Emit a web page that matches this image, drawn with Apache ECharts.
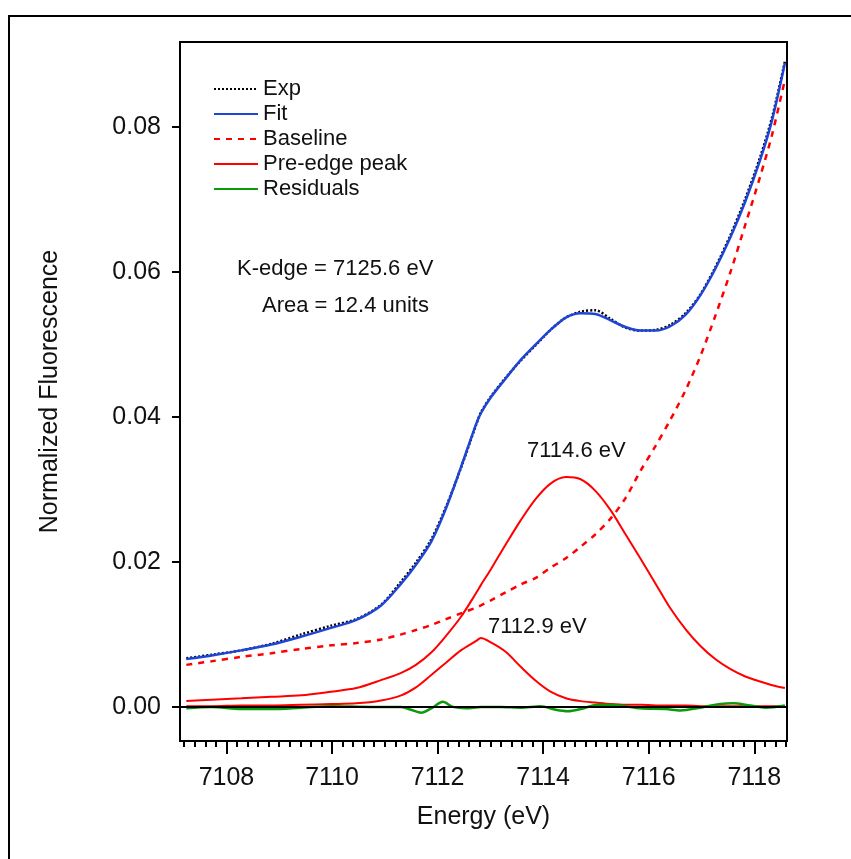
<!DOCTYPE html>
<html>
<head>
<meta charset="utf-8">
<script src="https://cdn.jsdelivr.net/npm/echarts@6/dist/echarts.min.js"></script>
<style>
  html, body { margin: 0; padding: 0; background: #fff; }
  #chart { width: 851px; height: 859px; }
</style>
</head>
<body>
<div id="chart"></div>
<script>
// energies (eV) shared by the fitted curves
const energy = [7107.24, 7107.72, 7108.28, 7108.85, 7109.42, 7109.98, 7110.46, 7110.93, 7111.31, 7111.59,
  7111.88, 7112.16, 7112.44, 7112.73, 7112.82, 7113.01, 7113.29, 7113.58, 7113.86, 7114.14,
  7114.43, 7114.71, 7114.99, 7115.28, 7115.56, 7115.84, 7116.13, 7116.41, 7116.70, 7116.98,
  7117.26, 7117.55, 7117.83, 7118.11, 7118.34, 7118.58];

const expData = [0.0067, 0.0072, 0.0078, 0.0087, 0.0100, 0.0112, 0.0121, 0.0141, 0.0173, 0.0199,
  0.0231, 0.0276, 0.0329, 0.0389, 0.0406, 0.0428, 0.0454, 0.0478, 0.0499, 0.0520,
  0.0537, 0.0545, 0.0547, 0.0535, 0.0523, 0.0519, 0.0520, 0.0527, 0.0543, 0.0569,
  0.0606, 0.0651, 0.0701, 0.0758, 0.0814, 0.0890];

const fitData = [0.0066, 0.0071, 0.0078, 0.0086, 0.0097, 0.0109, 0.0120, 0.0140, 0.0170, 0.0196,
  0.0228, 0.0274, 0.0330, 0.0390, 0.0405, 0.0427, 0.0453, 0.0479, 0.0500, 0.0520,
  0.0537, 0.0543, 0.0542, 0.0533, 0.0524, 0.0519, 0.0519, 0.0525, 0.0541, 0.0568,
  0.0604, 0.0648, 0.0697, 0.0754, 0.0810, 0.0888];

const baselineData = [0.0058, 0.0063, 0.0069, 0.0074, 0.0080, 0.0085, 0.0088, 0.0093, 0.0100, 0.0106,
  0.0113, 0.0121, 0.0129, 0.0137, 0.0140, 0.0147, 0.0158, 0.0169, 0.0178, 0.0192,
  0.0205, 0.0221, 0.0238, 0.0260, 0.0288, 0.0325, 0.0360, 0.0396, 0.0437, 0.0484,
  0.0539, 0.0600, 0.0665, 0.0731, 0.0790, 0.0865];

const peakHigh = [0.0008, 0.0010, 0.0012, 0.0014, 0.0016, 0.0021, 0.0026, 0.0037, 0.0047, 0.0058,
  0.0075, 0.0098, 0.0124, 0.0157, 0.0168, 0.0190, 0.0224, 0.0258, 0.0287, 0.0308,
  0.0317, 0.0314, 0.0298, 0.0271, 0.0238, 0.0205, 0.0170, 0.0136, 0.0107, 0.0084,
  0.0066, 0.0052, 0.0042, 0.0035, 0.0030, 0.0026];

const peakLow = [0.0001, 0.0001, 0.0002, 0.0002, 0.0003, 0.0004, 0.0005, 0.0009, 0.0016, 0.0027,
  0.0044, 0.0061, 0.0078, 0.0091, 0.0095, 0.0089, 0.0076, 0.0055, 0.0036, 0.0021,
  0.0012, 0.0008, 0.0006, 0.0004, 0.0003, 0.0003, 0.0002, 0.0002, 0.0002, 0.0001,
  0.0001, 0.0001, 0.0001, 0.0001, 0.0001, 0.0001];

// residuals have their own sampling
const residEnergy = [7107.24, 7107.72, 7108.28, 7108.85, 7109.42, 7109.98, 7110.74, 7111.31, 7111.50, 7111.69,
  7111.88, 7112.10, 7112.29, 7112.54, 7112.82, 7113.20, 7113.58, 7113.95, 7114.24, 7114.47,
  7114.71, 7115.03, 7115.47, 7115.84, 7116.32, 7116.60, 7116.98, 7117.36, 7117.60, 7117.92,
  7118.21, 7118.58];
const residData = [-0.0002, 0.0000, -0.0003, -0.0003, -0.0001, 0.0001, 0.0000, 0.0000, -0.0004, -0.0008,
  -0.0002, 0.0007, 0.0000, -0.0002, 0.0000, 0.0000, -0.0001, 0.0001, -0.0004, -0.0006,
  -0.0003, 0.0003, 0.0002, -0.0002, -0.0003, -0.0005, -0.0001, 0.0004, 0.0005, 0.0002,
  -0.0001, 0.0002];

const xTicks = [7108, 7110, 7112, 7114, 7116, 7118];
const yTicks = [0, 0.02, 0.04, 0.06, 0.08];

const legendNames = ["Exp", "Fit", "Baseline", "Pre-edge peak", "Residuals"];

const font = "Liberation Sans, Arial, sans-serif";

const minorTicks = [];
for (let v = 7107.2; v < 7118.65; v += 0.2) minorTicks.push(+v.toFixed(1));

const pairs = (xs, ys) => xs.map((x, i) => [x, ys[i]]);

const lineSeries = (name, xs, ys, color, width, type, z) => ({
  name: name,
  type: "line",
  data: pairs(xs, ys),
  symbol: "none",
  smooth: 0.3,
  lineStyle: { color: color, width: width, type: type },
  itemStyle: { color: color },
  z: z,
});

const chart = echarts.init(document.getElementById("chart"));

const expSeries = lineSeries("Exp", energy, expData, "#000", 2.5, [2, 2], 2);
expSeries.markLine = {
  silent: true,
  symbol: "none",
  label: { show: false },
  lineStyle: { color: "#000", width: 2, type: "solid" },
  data: [{ yAxis: 0 }],
};

chart.setOption({
  backgroundColor: "#fff",
  animation: false,
  textStyle: { fontFamily: font, color: "#111" },
  grid: {
    left: 180,
    right: 64,
    top: 42,
    bottom: 118,
    show: true,
    borderColor: "#000",
    borderWidth: 2,
    backgroundColor: "transparent",
  },
  legend: {
    data: legendNames,
    orient: "vertical",
    left: 208,
    top: 73,
    itemWidth: 44,
    itemHeight: 14,
    itemGap: 3,
    itemStyle: { opacity: 0 },
    textStyle: { fontFamily: font, fontSize: 22, color: "#111" },
    selectedMode: false,
  },
  xAxis: [
    {
      type: "value",
      min: 7107.12,
      max: 7118.62,
      position: "bottom",
      name: "Energy (eV)",
      nameLocation: "middle",
      nameGap: 64,
      nameTextStyle: { fontFamily: font, fontSize: 25, color: "#111" },
      axisLine: { onZero: false, lineStyle: { color: "#000", width: 2 } },
      axisTick: { inside: false, length: 13, customValues: xTicks, lineStyle: { color: "#000", width: 2 } },
      axisLabel: {
        customValues: xTicks,
        margin: 25,
        fontSize: 25,
        color: "#111",
        fontFamily: font,
        formatter: (v) => String(v),
      },
      splitLine: { show: false },
    },
    {
      type: "value",
      min: 7107.12,
      max: 7118.62,
      position: "bottom",
      offset: 0,
      axisLine: { show: false, onZero: false },
      axisTick: { length: 6, customValues: minorTicks, lineStyle: { color: "#000", width: 2 } },
      axisLabel: { show: false },
      splitLine: { show: false },
    },
  ],
  yAxis: {
    type: "value",
    min: -0.0047,
    max: 0.0917,
    name: "Normalized Fluorescence",
    nameLocation: "middle",
    nameGap: 117,
    nameRotate: 90,
    nameTextStyle: { fontFamily: font, fontSize: 25, color: "#111" },
    axisLine: { show: true, onZero: false, lineStyle: { color: "#000", width: 2 } },
    axisTick: { show: true, length: 8, customValues: yTicks, lineStyle: { color: "#000", width: 2 } },
    axisLabel: {
      customValues: yTicks,
      margin: 19,
      fontSize: 25,
      color: "#111",
      fontFamily: font,
      formatter: (v) => v.toFixed(2),
    },
    splitLine: { show: false },
  },
  series: [
    expSeries,
    lineSeries("Fit", energy, fitData, "#1f45d6", 2.5, "solid", 3),
    lineSeries("Baseline", energy, baselineData, "#ff0000", 2.5, [6, 6], 3),
    lineSeries("Pre-edge peak", energy, peakHigh, "#ff0000", 2, "solid", 3),
    lineSeries("Pre-edge peak", energy, peakLow, "#ff0000", 2, "solid", 3),
    lineSeries("Residuals", residEnergy, residData, "#0a9a0a", 2.5, "solid", 4),
  ],
  graphic: [
    {
      type: "rect",
      shape: { x: 9, y: 16, width: 900, height: 900 },
      style: { fill: "none", stroke: "#000", lineWidth: 2 },
      silent: true,
      z: -1,
    },
    {
      type: "text",
      left: 237,
      top: 258,
      style: { text: "K-edge = 7125.6 eV", fontFamily: font, fontSize: 22, fill: "#111" },
    },
    {
      type: "text",
      left: 262,
      top: 295,
      style: { text: "Area = 12.4 units", fontFamily: font, fontSize: 22, fill: "#111" },
    },
    {
      type: "text",
      left: 527,
      top: 440,
      style: { text: "7114.6 eV", fontFamily: font, fontSize: 22, fill: "#111" },
    },
    {
      type: "text",
      left: 488,
      top: 616,
      style: { text: "7112.9 eV", fontFamily: font, fontSize: 22, fill: "#111" },
    },
  ],
});
</script>
</body>
</html>
